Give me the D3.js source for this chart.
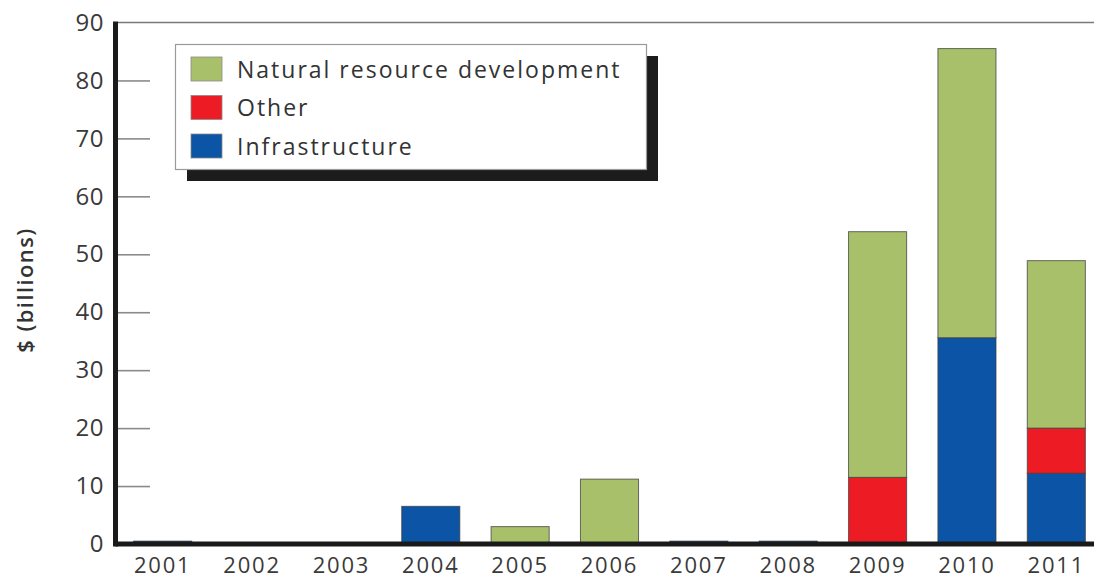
<!DOCTYPE html>
<html>
<head>
<meta charset="utf-8">
<script src="https://cdn.jsdelivr.net/npm/d3@7"></script>
<style>
  html, body { margin: 0; padding: 0; background: #fff; }
  svg { display: block; }
  svg text { font-family: "Open Sans", "Noto Sans", sans-serif; }
</style>
</head>
<body>
<svg id="chart" width="1094" height="580"></svg>
<script>
// Annual lending, $ billions, split by purpose
const years = ["2001", "2002", "2003", "2004", "2005", "2006", "2007", "2008", "2009", "2010", "2011"];
const infrastructure = [0.5, 0, 0, 6.5, 0, 0, 0.5, 0.5, 0, 35.6, 12.2];
const other          = [0, 0, 0, 0, 0, 0, 0, 0, 11.5, 0, 7.8];
const naturalResource = [0, 0, 0, 0, 3.0, 11.2, 0, 0, 42.4, 49.9, 28.9];

const seriesKeys = ["Infrastructure", "Other", "Natural resource development"];
const legendOrder = ["Natural resource development", "Other", "Infrastructure"];
const yTicks = [0, 10, 20, 30, 40, 50, 60, 70, 80, 90];

const colors = {
  "Natural resource development": "#a8c06a",
  "Other": "#ed1c24",
  "Infrastructure": "#0b54a6"
};

const rows = years.map((y, i) => ({
  year: y,
  "Infrastructure": infrastructure[i],
  "Other": other[i],
  "Natural resource development": naturalResource[i]
}));

const svg = d3.select("#chart");
const x0 = 118, x1 = 1101, yBottom = 544, yTop = 22.5;

const x = d3.scaleBand().domain(years).range([x0, x1])
  .paddingInner(0.35).paddingOuter(0.175);
const y = d3.scaleLinear().domain([0, 90]).range([yBottom, yTop]);

// top frame line at the 90 level
svg.append("line")
  .attr("x1", x0).attr("x2", 1094)
  .attr("y1", y(90)).attr("y2", y(90))
  .attr("stroke", "#7a7a7a").attr("stroke-width", 1.6);

// y axis: short inward ticks, labels on the left
const yAxis = svg.append("g")
  .attr("transform", `translate(${x0},0)`)
  .call(d3.axisLeft(y).tickValues(yTicks).tickSizeInner(-32).tickSizeOuter(0).tickPadding(14));
yAxis.attr("font-family", null);
yAxis.select(".domain").remove();
yAxis.selectAll(".tick line")
  .attr("stroke", "#8a8a8a").attr("stroke-width", 1.6)
  .attr("display", d => (d === 0 || d === 90) ? "none" : null);
yAxis.selectAll(".tick text")
  .attr("fill", "#3a3a3a").style("font-size", "24px").style("letter-spacing", "0.5px");

// stacked bars
const stacked = d3.stack().keys(seriesKeys)(rows);
svg.append("g").selectAll("g")
  .data(stacked)
  .join("g")
  .attr("fill", d => colors[d.key])
  .selectAll("rect")
  .data(d => d.filter(s => s[1] - s[0] > 0))
  .join("rect")
  .attr("x", d => x(d.data.year))
  .attr("width", x.bandwidth())
  .attr("y", d => y(d[1]))
  .attr("height", d => y(d[0]) - y(d[1]))
  .attr("stroke", "#3d3d3d").attr("stroke-opacity", 0.75).attr("stroke-width", 1);

// x axis labels
const xAxis = svg.append("g")
  .attr("transform", `translate(0,${yBottom})`)
  .call(d3.axisBottom(x).tickSize(0).tickPadding(0));
xAxis.attr("font-family", null);
xAxis.select(".domain").remove();
xAxis.selectAll(".tick text")
  .attr("y", 29).attr("dy", null)
  .attr("fill", "#3a3a3a").style("font-size", "22px").style("letter-spacing", "1.8px");

// heavy axis lines
svg.append("line")
  .attr("x1", x0 - 2.5).attr("x2", 1094)
  .attr("y1", yBottom).attr("y2", yBottom)
  .attr("stroke", "#1a1a1a").attr("stroke-width", 5);
svg.append("line")
  .attr("x1", x0 - 2.5).attr("x2", x0 - 2.5)
  .attr("y1", yTop - 1).attr("y2", yBottom + 2.5)
  .attr("stroke", "#1a1a1a").attr("stroke-width", 5);

// y axis title
svg.append("text")
  .attr("transform", "translate(33,290) rotate(-90)")
  .attr("text-anchor", "middle")
  .attr("fill", "#333")
  .style("font-size", "22px").style("font-weight", 600).style("letter-spacing", "1.4px")
  .text("$ (billions)");

// legend with drop shadow
const lg = svg.append("g");
lg.append("rect")
  .attr("x", 187).attr("y", 56).attr("width", 471).attr("height", 125)
  .attr("fill", "#1c1c1c");
lg.append("rect")
  .attr("x", 175.5).attr("y", 44.5).attr("width", 471).attr("height", 125)
  .attr("fill", "#fff").attr("stroke", "#9a9a9a").attr("stroke-width", 1.2);
const items = lg.selectAll("g.item")
  .data(legendOrder)
  .join("g")
  .attr("class", "item")
  .attr("transform", (d, i) => `translate(0,${i * 38.5})`);
items.append("rect")
  .attr("x", 191).attr("y", 57).attr("width", 31).attr("height", 24)
  .attr("fill", d => colors[d])
  .attr("stroke", "#8a8a8a").attr("stroke-width", 0.8);
items.append("text")
  .attr("x", 237).attr("y", 77.5)
  .attr("fill", "#333")
  .style("font-size", "23px").style("letter-spacing", "2px")
  .text(d => d);
</script>
</body>
</html>
